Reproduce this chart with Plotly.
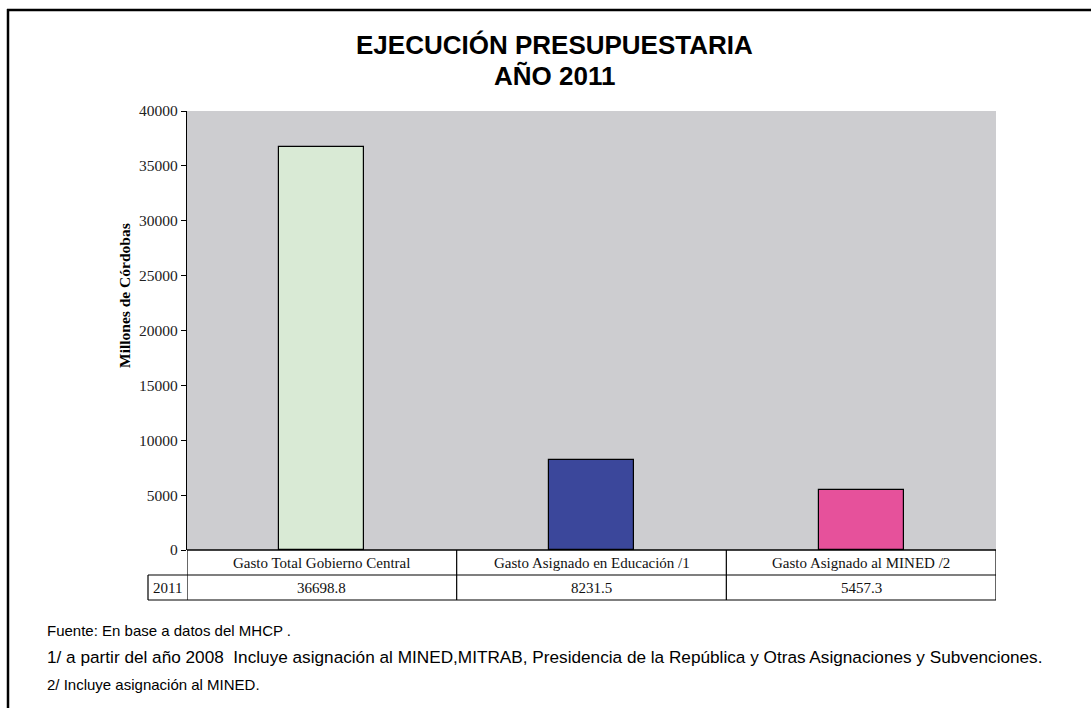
import plotly.graph_objects as go

categories = ["Gasto Total Gobierno Central", "Gasto Asignado en Educación /1", "Gasto Asignado al MINED /2"]
values = [36698.8, 8231.5, 5457.3]
value_labels = ["36698.8", "8231.5", "5457.3"]
series_name = "2011"
colors = ["#d9ead5", "#3b479b", "#e6519b"]
y_ticks = [0, 5000, 10000, 15000, 20000, 25000, 30000, 35000, 40000]
title_lines = ["EJECUCIÓN PRESUPUESTARIA", "AÑO 2011"]
footnotes = [
    "Fuente: En base a datos del MHCP .",
    "1/ a partir del año 2008  Incluye asignación al MINED,MITRAB, Presidencia de la República y Otras Asignaciones y Subvenciones.",
    "2/ Incluye asignación al MINED.",
]
footnote_sizes = [15, 17.2, 15]

W, H = 1091, 708
L, R, T, B = 187, 996, 111, 550
pw, ph = R - L, B - T

def px_x(px):
    return (px - L) / pw

def px_y(py):
    return (B - py) / ph

xs = list(range(len(categories)))
fig = go.Figure()
fig.add_trace(go.Bar(
    x=xs, y=values, width=0.315,
    marker=dict(color=colors, line=dict(color="black", width=1.2)),
    showlegend=False, hoverinfo="skip",
))

shapes = []
line = dict(color="black", width=1.2)
for xb in [-0.5, 0.5, 1.5, 2.5]:
    shapes.append(dict(type="line", xref="x", yref="paper", x0=xb, x1=xb, y0=px_y(550), y1=px_y(600), line=line))
shapes.append(dict(type="line", xref="paper", yref="paper", x0=px_x(148), x1=1, y0=px_y(575), y1=px_y(575), line=line))
shapes.append(dict(type="line", xref="paper", yref="paper", x0=px_x(148), x1=1, y0=px_y(600), y1=px_y(600), line=line))
shapes.append(dict(type="line", xref="paper", yref="paper", x0=px_x(148), x1=px_x(148), y0=px_y(575), y1=px_y(600), line=line))
shapes.append(dict(type="line", xref="paper", yref="paper", x0=0, x1=1, y0=0, y1=0, line=dict(color="black", width=1.5)))
shapes.append(dict(type="line", xref="paper", yref="paper", x0=px_x(7), x1=px_x(1091), y0=px_y(10), y1=px_y(10), line=dict(color="black", width=2.5)))
shapes.append(dict(type="line", xref="paper", yref="paper", x0=px_x(8), x1=px_x(8), y0=px_y(9), y1=px_y(708), line=dict(color="black", width=2.5)))

annotations = []
tfont = dict(family="Liberation Serif, Times New Roman, serif", size=15, color="#111")
for i, (c, v) in enumerate(zip(categories, value_labels)):
    annotations.append(dict(x=i, y=px_y(562.5), xref="x", yref="paper", text=c, showarrow=False, font=tfont, xanchor="center", yanchor="middle"))
    annotations.append(dict(x=i, y=px_y(587.5), xref="x", yref="paper", text=v, showarrow=False, font=tfont, xanchor="center", yanchor="middle"))
annotations.append(dict(x=px_x(167.5), y=px_y(587.5), xref="paper", yref="paper", text=series_name, showarrow=False, font=tfont, xanchor="center", yanchor="middle"))

for i, tl in enumerate(title_lines):
    annotations.append(dict(x=px_x(554), y=px_y(45 + 31 * i), xref="paper", yref="paper",
                            text="<b>" + tl + "</b>", showarrow=False,
                            font=dict(family="Liberation Sans, Arial, sans-serif", size=26, color="black"),
                            xanchor="center", yanchor="middle"))
annotations.append(dict(x=px_x(838), y=px_y(5), xref="paper", yref="paper",
                        text="<b>INIDE Gráficos MINED</b>", showarrow=False,
                        font=dict(family="Liberation Sans, Arial, sans-serif", size=26, color="black"),
                        xanchor="left", yanchor="bottom", yshift=-2))
annotations.append(dict(x=px_x(124), y=px_y(296), xref="paper", yref="paper",
                        text="<b>Millones de Córdobas</b>", showarrow=False, textangle=-90,
                        font=dict(family="Liberation Serif, Times New Roman, serif", size=15.5, color="black"),
                        xanchor="center", yanchor="middle"))
for i, (ft, fs) in enumerate(zip(footnotes, footnote_sizes)):
    annotations.append(dict(x=px_x(45), y=px_y(630 + 27 * i), xref="paper", yref="paper",
                            text=ft, showarrow=False,
                            font=dict(family="Liberation Sans, Arial, sans-serif", size=fs, color="black"),
                            xanchor="left", yanchor="middle"))

fig.update_layout(
    width=W, height=H,
    margin=dict(l=L, r=W - R, t=T, b=H - B, pad=0),
    paper_bgcolor="white", plot_bgcolor="#cdcdd0",
    xaxis=dict(range=[-0.5, 2.5], showticklabels=False, showgrid=False, zeroline=False,
               showline=False, ticks=""),
    yaxis=dict(range=[0, 40000], tickvals=y_ticks, ticktext=[str(t) for t in y_ticks],
               showgrid=False, zeroline=False, showline=True, linecolor="black", linewidth=1.2,
               ticks="outside", ticklen=5, tickcolor="black", tickwidth=1,
               tickfont=dict(family="Liberation Serif, Times New Roman, serif", size=15.5, color="#222")),
    shapes=shapes, annotations=annotations, bargap=0,
)
fig.write_html("out.html", config={"displayModeBar": False},
               post_script="document.body.style.margin='0';document.body.style.overflow='hidden';")
